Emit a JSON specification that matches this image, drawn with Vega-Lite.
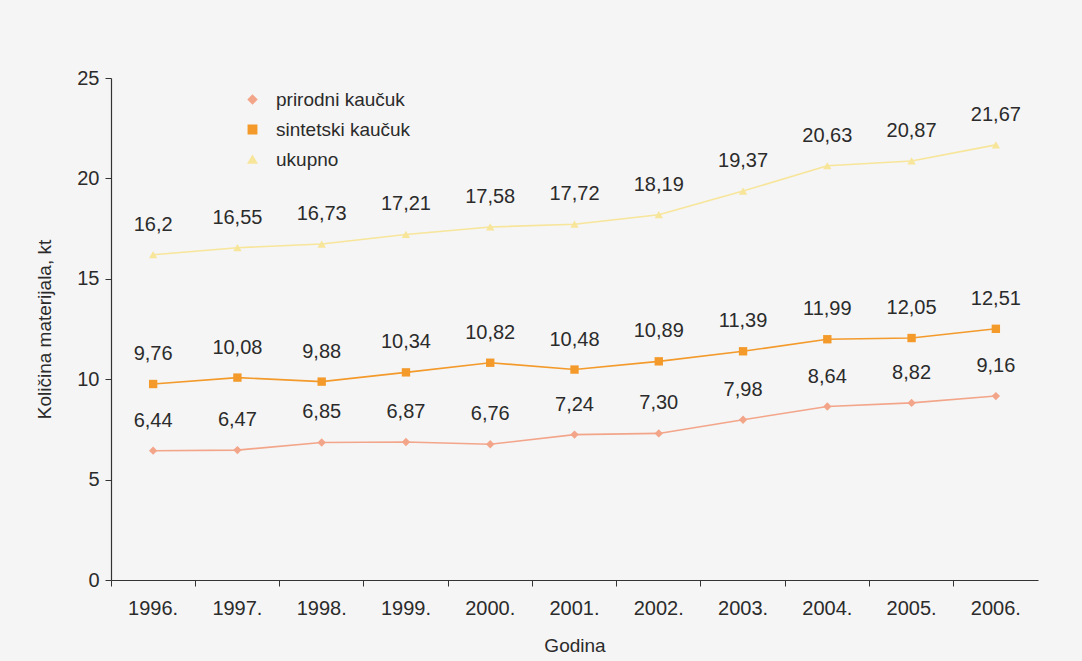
{
  "$schema": "https://vega.github.io/schema/vega-lite/v6.json",
  "autosize": {"type": "none"},
  "width": 927,
  "height": 502,
  "padding": {"left": 111, "top": 78, "right": 44, "bottom": 81},
  "background": "#f5f5f5",
  "config": {
    "view": {"stroke": null},
    "font": "Liberation Sans",
    "axis": {"labelFont": "Liberation Sans", "titleFont": "Liberation Sans", "labelColor": "#2b2b2b", "titleColor": "#2b2b2b", "labelFontSize": 20, "titleFontSize": 19, "titleFontWeight": "normal", "domainColor": "#333333", "tickColor": "#333333", "grid": false},
    "legend": {"labelFont": "Liberation Sans", "labelFontSize": 19, "labelColor": "#2b2b2b"}
  },
  "data": {"values": [
    {"year": "1996.", "series": "prirodni kaučuk", "value": 6.44, "label": "6,44"},
    {"year": "1997.", "series": "prirodni kaučuk", "value": 6.47, "label": "6,47"},
    {"year": "1998.", "series": "prirodni kaučuk", "value": 6.85, "label": "6,85"},
    {"year": "1999.", "series": "prirodni kaučuk", "value": 6.87, "label": "6,87"},
    {"year": "2000.", "series": "prirodni kaučuk", "value": 6.76, "label": "6,76"},
    {"year": "2001.", "series": "prirodni kaučuk", "value": 7.24, "label": "7,24"},
    {"year": "2002.", "series": "prirodni kaučuk", "value": 7.30, "label": "7,30"},
    {"year": "2003.", "series": "prirodni kaučuk", "value": 7.98, "label": "7,98"},
    {"year": "2004.", "series": "prirodni kaučuk", "value": 8.64, "label": "8,64"},
    {"year": "2005.", "series": "prirodni kaučuk", "value": 8.82, "label": "8,82"},
    {"year": "2006.", "series": "prirodni kaučuk", "value": 9.16, "label": "9,16"},
    {"year": "1996.", "series": "sintetski kaučuk", "value": 9.76, "label": "9,76"},
    {"year": "1997.", "series": "sintetski kaučuk", "value": 10.08, "label": "10,08"},
    {"year": "1998.", "series": "sintetski kaučuk", "value": 9.88, "label": "9,88"},
    {"year": "1999.", "series": "sintetski kaučuk", "value": 10.34, "label": "10,34"},
    {"year": "2000.", "series": "sintetski kaučuk", "value": 10.82, "label": "10,82"},
    {"year": "2001.", "series": "sintetski kaučuk", "value": 10.48, "label": "10,48"},
    {"year": "2002.", "series": "sintetski kaučuk", "value": 10.89, "label": "10,89"},
    {"year": "2003.", "series": "sintetski kaučuk", "value": 11.39, "label": "11,39"},
    {"year": "2004.", "series": "sintetski kaučuk", "value": 11.99, "label": "11,99"},
    {"year": "2005.", "series": "sintetski kaučuk", "value": 12.05, "label": "12,05"},
    {"year": "2006.", "series": "sintetski kaučuk", "value": 12.51, "label": "12,51"},
    {"year": "1996.", "series": "ukupno", "value": 16.2, "label": "16,2"},
    {"year": "1997.", "series": "ukupno", "value": 16.55, "label": "16,55"},
    {"year": "1998.", "series": "ukupno", "value": 16.73, "label": "16,73"},
    {"year": "1999.", "series": "ukupno", "value": 17.21, "label": "17,21"},
    {"year": "2000.", "series": "ukupno", "value": 17.58, "label": "17,58"},
    {"year": "2001.", "series": "ukupno", "value": 17.72, "label": "17,72"},
    {"year": "2002.", "series": "ukupno", "value": 18.19, "label": "18,19"},
    {"year": "2003.", "series": "ukupno", "value": 19.37, "label": "19,37"},
    {"year": "2004.", "series": "ukupno", "value": 20.63, "label": "20,63"},
    {"year": "2005.", "series": "ukupno", "value": 20.87, "label": "20,87"},
    {"year": "2006.", "series": "ukupno", "value": 21.67, "label": "21,67"}
  ]},
  "encoding": {
    "x": {"field": "year", "type": "ordinal", "scale": {"type": "band", "paddingInner": 0, "paddingOuter": 0},
      "axis": {"title": "Godina", "labelAngle": 0, "bandPosition": 0, "tickSize": 6, "labelPadding": 12, "titlePadding": 18, "domainWidth": 1.2}},
    "y": {"field": "value", "type": "quantitative", "scale": {"domain": [0, 25]},
      "axis": {"title": "Količina materijala, kt", "values": [0, 5, 10, 15, 20, 25], "tickSize": 6, "labelPadding": 6, "titlePadding": 22, "domainWidth": 1.2}},
    "color": {"field": "series", "type": "nominal", "scale": {"domain": ["prirodni kaučuk", "sintetski kaučuk", "ukupno"], "range": ["#f3a58a", "#f39a2b", "#f7e59a"]},
      "legend": {"title": null, "orient": "none", "legendX": 132, "legendY": 12, "symbolSize": 70, "rowPadding": 10, "labelOffset": 14}}
  },
  "layer": [
    {
      "mark": {"type": "line", "strokeWidth": 1.6}
    },
    {
      "mark": {"type": "point", "filled": true, "opacity": 1},
      "encoding": {
        "shape": {"field": "series", "type": "nominal", "scale": {"domain": ["prirodni kaučuk", "sintetski kaučuk", "ukupno"], "range": ["diamond", "square", "triangle-up"]},
          "legend": {"title": null, "orient": "none", "legendX": 132, "legendY": 12, "symbolSize": 70, "rowPadding": 10, "labelOffset": 14}},
        "size": {"value": 70}
      }
    },
    {
      "mark": {"type": "text", "fontSize": 20, "dy": -30, "baseline": "middle", "font": "Liberation Sans"},
      "encoding": {"text": {"field": "label"}, "color": {"value": "#2b2b2b"}}
    }
  ]
}
